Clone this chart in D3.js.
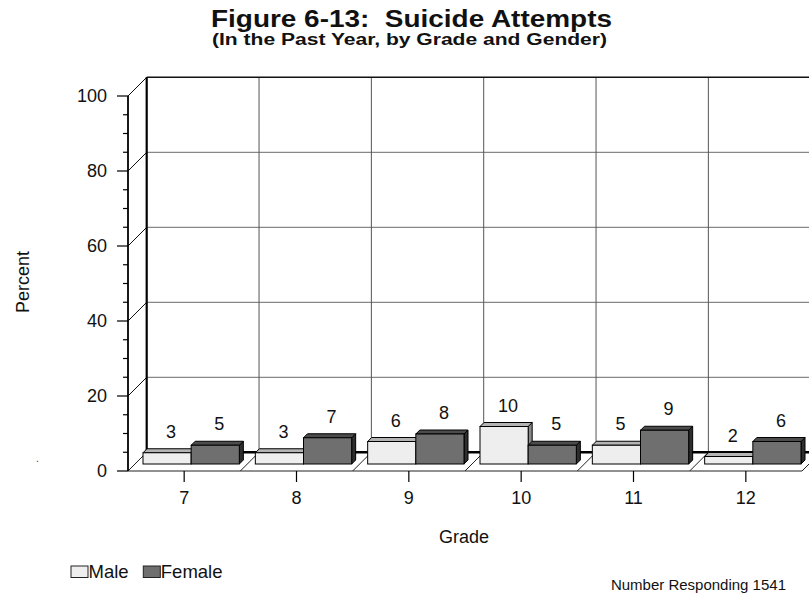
<!DOCTYPE html>
<html>
<head>
<meta charset="utf-8">
<script src="https://cdn.jsdelivr.net/npm/d3@7"></script>
<style>
  html, body { margin: 0; padding: 0; background: #fff; }
  svg { display: block; font-family: Arial, "Liberation Sans", sans-serif; }
</style>
</head>
<body>
<svg id="chart" width="809" height="596"></svg>
<script>
// Grades and percentages of students reporting a suicide attempt
const grades = ["7", "8", "9", "10", "11", "12"];
const series = ["Male", "Female"];
const maleValues = [3, 3, 6, 10, 5, 2];
const femaleValues = [5, 7, 8, 5, 9, 6];
const yTicks = [0, 20, 40, 60, 80, 100];

const svg = d3.select("#chart");

// front plane scales
const x = d3.scaleBand().domain(grades).range([128, 802]).paddingInner(0).paddingOuter(0);
const y = d3.scaleLinear().domain([0, 100]).range([471, 96]);
const W = x.bandwidth();
const inner = d3.scaleBand().domain(series).range([8, W - 8]).padding(0);

// oblique depth of the chart box and of the bars
const DX = 18.7, DY = -18.7;
const barZ = 7;     // bars stand this far behind the front edge
const barD = 4;     // bar depth

const x0 = x.range()[0], x1 = x.range()[1];
const yTop = y(100), yZero = y(0);

const fills = {
  Male:   { front: "#eeeeee", top: "#b4b4b4", side: "#8a8a8a" },
  Female: { front: "#6f6f6f", top: "#4c4c4c", side: "#2e2e2e" }
};

// back wall
svg.append("rect")
  .attr("x", x0 + DX).attr("y", yTop + DY)
  .attr("width", x1 - x0 + 20).attr("height", yZero - yTop)
  .attr("fill", "#fff");

// horizontal gridlines on back wall
svg.append("g").selectAll("line")
  .data(yTicks.filter(d => d > 0 && d < 100))
  .join("line")
  .attr("x1", x0 + DX).attr("x2", x1 + DX)
  .attr("y1", d => y(d) + DY).attr("y2", d => y(d) + DY)
  .attr("stroke", "#6a6a6a").attr("stroke-width", 1);

// vertical category lines on back wall
svg.append("g").selectAll("line")
  .data(grades.slice(1))
  .join("line")
  .attr("x1", d => x(d) + DX).attr("x2", d => x(d) + DX)
  .attr("y1", yTop + DY).attr("y2", yZero + DY)
  .attr("stroke", "#555").attr("stroke-width", 1);

// top edge of back wall
svg.append("line")
  .attr("x1", x0 + DX).attr("x2", x1 + DX)
  .attr("y1", yTop + DY).attr("y2", yTop + DY)
  .attr("stroke", "#111").attr("stroke-width", 1.5);

// side wall diagonals at major ticks
svg.append("g").selectAll("line")
  .data(yTicks.filter(d => d > 0))
  .join("line")
  .attr("x1", x0).attr("y1", d => y(d))
  .attr("x2", x0 + DX).attr("y2", d => y(d) + DY)
  .attr("stroke", "#111").attr("stroke-width", 1);

// floor
svg.append("path")
  .attr("d", `M${x0},${yZero}L${x1},${yZero}L${x1 + DX},${yZero + DY}L${x0 + DX},${yZero + DY}Z`)
  .attr("fill", "#fff").attr("stroke", "#222").attr("stroke-width", 1);

// floor category dividers
svg.append("g").selectAll("line")
  .data(grades.map(g => x(g)).concat([x1]))
  .join("line")
  .attr("x1", d => d).attr("y1", yZero)
  .attr("x2", d => d + DX).attr("y2", yZero + DY)
  .attr("stroke", "#222").attr("stroke-width", 1);

// back floor edge and left edge of back wall
svg.append("line")
  .attr("x1", x0 + DX).attr("x2", x1 + DX)
  .attr("y1", yZero + DY).attr("y2", yZero + DY)
  .attr("stroke", "#000").attr("stroke-width", 2.5);
svg.append("line")
  .attr("x1", x0 + DX).attr("x2", x0 + DX)
  .attr("y1", yTop + DY).attr("y2", yZero + DY)
  .attr("stroke", "#000").attr("stroke-width", 2.2);

// bars
const rows = grades.map((g, i) => ({ grade: g, Male: maleValues[i], Female: femaleValues[i] }));
const barData = [];
rows.forEach(r => series.forEach(s => barData.push({ grade: r.grade, series: s, value: r[s] })));

const bars = svg.append("g").selectAll("g")
  .data(barData)
  .join("g");

function geom(d) {
  const bx0 = x(d.grade) + inner(d.series) + barZ;
  const bx1 = bx0 + inner.bandwidth();
  const by0 = y(d.value) - barZ;
  const by1 = y(0) - barZ;
  return { bx0, bx1, by0, by1 };
}

bars.append("path")
  .attr("d", d => {
    const { bx1, by0, by1 } = geom(d);
    return `M${bx1},${by0}L${bx1 + barD},${by0 - barD}L${bx1 + barD},${by1 - barD}L${bx1},${by1}Z`;
  })
  .attr("fill", d => fills[d.series].side)
  .attr("stroke", "#000").attr("stroke-width", 1).attr("stroke-linejoin", "round");

bars.append("path")
  .attr("d", d => {
    const { bx0, bx1, by0 } = geom(d);
    return `M${bx0},${by0}L${bx1},${by0}L${bx1 + barD},${by0 - barD}L${bx0 + barD},${by0 - barD}Z`;
  })
  .attr("fill", d => fills[d.series].top)
  .attr("stroke", "#000").attr("stroke-width", 1).attr("stroke-linejoin", "round");

bars.append("rect")
  .attr("x", d => geom(d).bx0)
  .attr("y", d => geom(d).by0)
  .attr("width", inner.bandwidth())
  .attr("height", d => geom(d).by1 - geom(d).by0)
  .attr("fill", d => fills[d.series].front)
  .attr("stroke", "#000").attr("stroke-width", 1);

// value labels
bars.append("text")
  .attr("x", d => (geom(d).bx0 + geom(d).bx1) / 2 + barD)
  .attr("y", d => geom(d).by0 - barD - 11)
  .attr("text-anchor", "middle")
  .attr("font-size", 18)
  .attr("fill", "#111")
  .text(d => d.value);

// front y axis with minor ticks
svg.append("line")
  .attr("x1", x0).attr("x2", x0).attr("y1", yTop).attr("y2", yZero)
  .attr("stroke", "#000").attr("stroke-width", 1.8);
svg.append("g").selectAll("line")
  .data(d3.range(0, 101, 5))
  .join("line")
  .attr("x1", d => d % 20 === 0 ? x0 - 11 : x0 - 5).attr("x2", x0)
  .attr("y1", d => y(d)).attr("y2", d => y(d))
  .attr("stroke", "#000").attr("stroke-width", 1.2);
svg.append("g").selectAll("text")
  .data(yTicks)
  .join("text")
  .attr("x", 107).attr("y", d => y(d))
  .attr("dy", "0.35em")
  .attr("text-anchor", "end")
  .attr("font-size", 18)
  .attr("fill", "#111")
  .text(d => d);

// x axis ticks and labels
svg.append("g").selectAll("line")
  .data(grades)
  .join("line")
  .attr("x1", d => x(d) + W / 2).attr("x2", d => x(d) + W / 2)
  .attr("y1", yZero).attr("y2", yZero + 11)
  .attr("stroke", "#000").attr("stroke-width", 1.2);
svg.append("g").selectAll("text")
  .data(grades)
  .join("text")
  .attr("x", d => x(d) + W / 2).attr("y", 504)
  .attr("text-anchor", "middle")
  .attr("font-size", 18)
  .attr("fill", "#111")
  .text(d => d);

// titles (set in a wide bold face)
svg.append("text")
  .attr("x", 211).attr("y", 27)
  .attr("font-size", 23).attr("font-weight", "bold")
  .attr("fill", "#111")
  .attr("textLength", 401).attr("lengthAdjust", "spacingAndGlyphs")
  .attr("xml:space", "preserve")
  .text("Figure 6-13:  Suicide Attempts");
svg.append("text")
  .attr("x", 212).attr("y", 45)
  .attr("font-size", 16).attr("font-weight", "bold")
  .attr("fill", "#111")
  .attr("textLength", 395).attr("lengthAdjust", "spacingAndGlyphs")
  .text("(In the Past Year, by Grade and Gender)");

// axis titles
svg.append("text")
  .attr("transform", "translate(29,282) rotate(-90)")
  .attr("text-anchor", "middle")
  .attr("font-size", 18)
  .attr("fill", "#111")
  .text("Percent");
svg.append("text")
  .attr("x", 464).attr("y", 543)
  .attr("text-anchor", "middle")
  .attr("font-size", 18)
  .attr("fill", "#111")
  .text("Grade");

svg.append("text")
  .attr("x", 36).attr("y", 462)
  .attr("font-size", 10)
  .attr("fill", "#333")
  .text(".");

// legend
const legendX = [71, 143.3];
const legend = svg.append("g").selectAll("g")
  .data(series)
  .join("g")
  .attr("transform", (d, i) => `translate(${legendX[i]},566)`);
legend.append("rect")
  .attr("width", 17).attr("height", 11.5)
  .attr("fill", d => fills[d].front)
  .attr("stroke", "#222").attr("stroke-width", 1);
legend.append("text")
  .attr("x", 17.5).attr("y", 11.7)
  .attr("font-size", 18.5)
  .attr("fill", "#111")
  .text(d => d);

svg.append("text")
  .attr("x", 786).attr("y", 590)
  .attr("text-anchor", "end")
  .attr("font-size", 15)
  .attr("fill", "#111")
  .text("Number Responding 1541");
</script>
</body>
</html>
